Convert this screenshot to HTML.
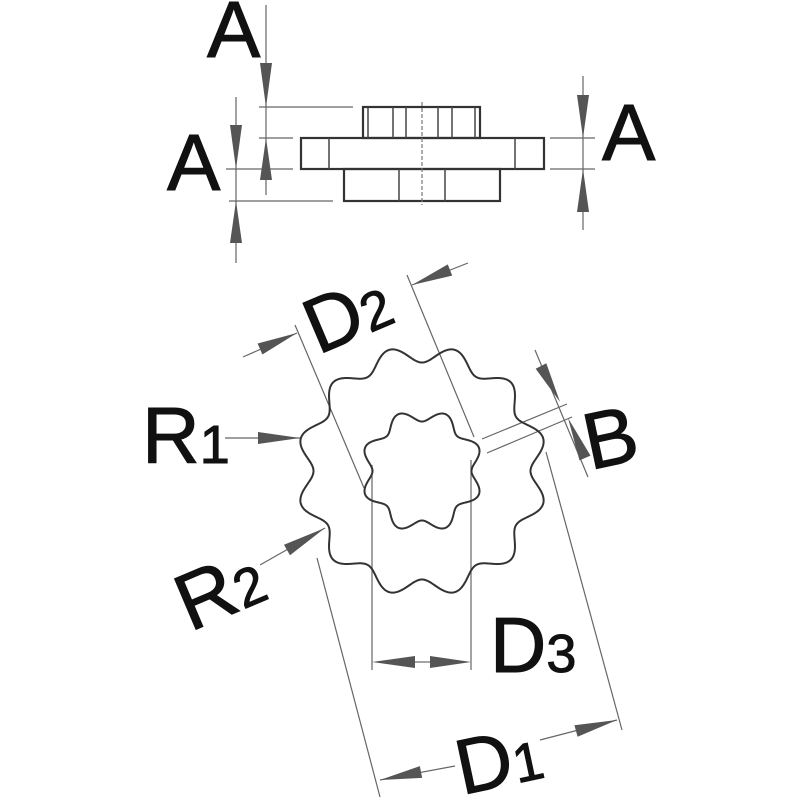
<!DOCTYPE html>
<html><head><meta charset="utf-8"><style>
html,body{margin:0;padding:0;background:#fff;}
svg{display:block;}
text{font-family:"Liberation Sans",Arial,sans-serif;fill:#111;stroke:#111;stroke-width:1;}
</style></head><body>
<svg id="s" width="800" height="800" viewBox="0 0 800 800" xmlns="http://www.w3.org/2000/svg">
<g fill="none" stroke="#333" stroke-width="2.2">
<rect x="363" y="107" width="117" height="31"/>
<rect x="301" y="138" width="243" height="31"/>
<rect x="344" y="169" width="156" height="32"/>
</g>
<g stroke="#444" stroke-width="1.5">
<line x1="368" y1="107" x2="368" y2="138"/><line x1="393" y1="107" x2="393" y2="138"/>
<line x1="406" y1="107" x2="406" y2="138"/><line x1="438" y1="107" x2="438" y2="138"/>
<line x1="452" y1="107" x2="452" y2="138"/><line x1="475" y1="107" x2="475" y2="138"/>
<line x1="329" y1="138" x2="329" y2="169"/><line x1="515" y1="138" x2="515" y2="169"/>
<line x1="399" y1="169" x2="399" y2="201"/><line x1="445" y1="169" x2="445" y2="201"/>
</g>
<line x1="422" y1="102" x2="422" y2="205" stroke="#777" stroke-width="1.2" stroke-dasharray="4,2"/>
<g stroke="#666" stroke-width="1.2">
<line x1="259" y1="107" x2="353" y2="107"/>
<line x1="259" y1="138" x2="293" y2="138"/>
<line x1="226" y1="169" x2="293" y2="169"/>
<line x1="229" y1="201" x2="333" y2="201"/>
<line x1="266" y1="5" x2="266" y2="195"/>
<line x1="236" y1="97" x2="236" y2="263"/>
<line x1="550" y1="138" x2="595" y2="138"/>
<line x1="550" y1="169" x2="595" y2="169"/>
<line x1="583" y1="76" x2="583" y2="230"/>
<line x1="295" y1="325" x2="364" y2="488"/>
<line x1="407" y1="275" x2="474" y2="437"/>
<line x1="482" y1="439" x2="567" y2="404"/>
<line x1="487" y1="453" x2="572" y2="417"/>
<line x1="535" y1="350" x2="588" y2="477"/>
<line x1="317" y1="558" x2="380" y2="797"/>
<line x1="546" y1="452" x2="622" y2="730"/>
<line x1="372" y1="465" x2="372" y2="670"/>
<line x1="471" y1="460" x2="471" y2="670"/>
<line x1="225" y1="438" x2="300" y2="438"/>
<line x1="260" y1="565" x2="325" y2="528"/>
<line x1="243" y1="357" x2="297" y2="333"/>
<line x1="468" y1="263" x2="412" y2="285"/>
<line x1="455" y1="766" x2="380" y2="780"/>
<line x1="540" y1="740" x2="617" y2="720"/>
<line x1="415" y1="662" x2="430" y2="662"/>
</g>
<g fill="#555">
<polygon points="266,107 260,63 272,63"/>
<polygon points="266,138 260,180 272,180"/>
<polygon points="236,169 230,125 242,125"/>
<polygon points="236,201 230,243 242,243"/>
<polygon points="583,138 577,95 589,95"/>
<polygon points="583,169 577,212 589,212"/>
<polygon points="372,662 415,656 415,668"/>
<polygon points="471,662 430,656 430,668"/>
<polygon points="300,438 258,432 258,444"/>
</g>
<g id="rarrows" fill="#555"></g>
<path id="outer" fill="none" stroke="#333" stroke-width="2"/>
<path id="inner" fill="none" stroke="#333" stroke-width="2"/>
<g>
<text x="207" y="57" font-size="80">A</text>
<text x="167" y="190" font-size="80">A</text>
<text x="602" y="160" font-size="80">A</text>
<text x="142" y="463" font-size="80">R<tspan font-size="54">1</tspan></text>
<text font-size="80" transform="translate(190,632) rotate(-23)">R<tspan font-size="54">2</tspan></text>
<text font-size="78" transform="translate(318,355) rotate(-23)">D<tspan font-size="54">2</tspan></text>
<text font-size="80" transform="translate(590,470) rotate(-12)">B</text>
<text x="490" y="672" font-size="78">D<tspan font-size="54">3</tspan></text>
<text font-size="78" transform="translate(462,795) rotate(-12)">D<tspan font-size="54">1</tspan></text>
</g>
</svg>
<script>
function gear(cx,cy,R0,a,n,ph){var d='';for(var i=0;i<=720;i++){var t=i/720*2*Math.PI;var r=R0+a*Math.cos(n*(t-ph));var x=cx+r*Math.cos(t),y=cy-r*Math.sin(t);d+=(i?'L':'M')+x.toFixed(2)+','+y.toFixed(2);}return d+'Z';}
document.getElementById('outer').setAttribute('d',gear(422,471,117,8.5,12,75*Math.PI/180));
document.getElementById('inner').setAttribute('d',gear(422,471,55.5,6,8,22.5*Math.PI/180));
function arr(tx,ty,fx,fy,w){var dx=tx-fx,dy=ty-fy,L=Math.hypot(dx,dy),nx=-dy/L*w,ny=dx/L*w;return '<polygon points="'+tx+','+ty+' '+(fx+nx)+','+(fy+ny)+' '+(fx-nx)+','+(fy-ny)+'"/>';}
var h='';
h+=arr(297,333,260,349,6);
h+=arr(412,285,450,270,6);
h+=arr(325,528,287,550,6);
h+=arr(560,402,541,366,6);
h+=arr(568,418,585,458,6);
h+=arr(380,780,421,772,6);
h+=arr(617,720,576,731,6);
document.getElementById('rarrows').innerHTML=h;
</script>
</body></html>
